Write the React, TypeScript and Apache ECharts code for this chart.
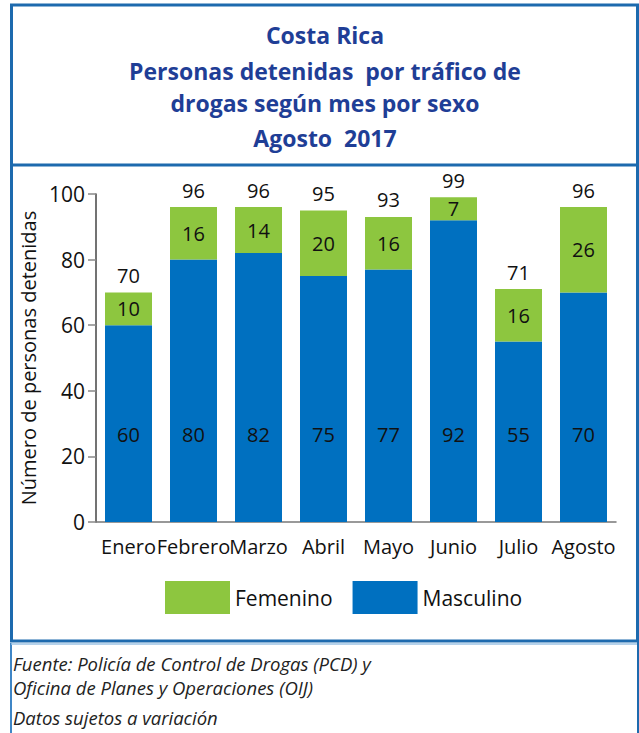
import React, { useEffect, useRef } from "react";
import * as echarts from "echarts";

const categories = ["Enero", "Febrero", "Marzo", "Abril", "Mayo", "Junio", "Julio", "Agosto"];
const masculino = [60, 80, 82, 75, 77, 92, 55, 70];
const femenino = [10, 16, 14, 20, 16, 7, 16, 26];
const totals = [70, 96, 96, 95, 93, 99, 71, 96];
const yTicks = { min: 0, max: 100, interval: 20 };
const titleLines = ["Costa Rica", "Personas detenidas  por tráfico de", "drogas según mes por sexo", "Agosto  2017"];
const footerLines = [
  "Fuente: Policía de Control de Drogas (PCD) y",
  "Oficina de Planes y Operaciones (OIJ)",
  "Datos sujetos a variación",
];

const BLUE = "#0070c0";
const GREEN = "#8dc63f";
const FRAME = "#1d6aae";
const TITLE_COLOR = "#1f3e96";
const FONT = "'Open Sans', 'Noto Sans', sans-serif";

export default function App() {
  const ref = useRef<HTMLDivElement>(null);
  useEffect(() => {
    document.body.style.margin = "0";
    const chart = echarts.init(ref.current!, undefined, { renderer: "svg" });
    const titleY = [35, 71, 103, 138];
    const footerY = [663, 687, 717];
    chart.setOption({
      animation: false,
      textStyle: { fontFamily: FONT },
      grid: { left: 96, top: 194, width: 520, height: 328, containLabel: false },
      legend: {
        data: ["Femenino", "Masculino"],
        left: 165,
        top: 581,
        padding: 0,
        itemWidth: 65,
        itemHeight: 33,
        itemGap: 20,
        icon: "rect",
        textStyle: { fontSize: 21, color: "#111", fontFamily: FONT },
      },
      xAxis: {
        type: "category",
        data: categories,
        axisLine: { lineStyle: { color: "#777", width: 1.5 } },
        axisTick: { inside: true, length: 6, lineStyle: { color: "#777" } },
        axisLabel: { fontSize: 20, color: "#111", margin: 14, interval: 0, fontFamily: FONT },
      },
      yAxis: {
        type: "value",
        min: yTicks.min,
        max: yTicks.max,
        interval: yTicks.interval,
        name: "Número de personas detenidas",
        nameLocation: "middle",
        nameGap: 52,
        nameTextStyle: { fontSize: 20, color: "#111", fontFamily: FONT },
        axisLine: { show: true, lineStyle: { color: "#444", width: 1.5 } },
        axisTick: { show: true, length: 8, lineStyle: { color: "#888", width: 1.5 } },
        splitLine: { show: false },
        axisLabel: { fontSize: 21, color: "#111", margin: 11, fontFamily: FONT },
      },
      series: [
        {
          name: "Masculino",
          type: "bar",
          stack: "s",
          data: masculino,
          barWidth: 47,
          itemStyle: { color: BLUE },
          label: {
            show: true,
            position: "insideBottom",
            distance: 78,
            fontSize: 20,
            color: "#111",
            fontFamily: FONT,
          },
        },
        {
          name: "Femenino",
          type: "bar",
          stack: "s",
          data: femenino,
          barWidth: 47,
          itemStyle: { color: GREEN },
          label: { show: true, position: "inside", fontSize: 20, color: "#111", fontFamily: FONT },
        },
        {
          name: "Total",
          type: "bar",
          stack: "s",
          data: totals.map(() => 0),
          barWidth: 47,
          itemStyle: { color: "transparent" },
          label: {
            show: true,
            position: "top",
            distance: 7,
            fontSize: 20,
            color: "#111",
            fontFamily: FONT,
            formatter: (p: any) => String(totals[p.dataIndex]),
          },
        },
      ],
      graphic: [
        {
          type: "rect",
          shape: { x: 11.5, y: 5, width: 626, height: 636 },
          style: { fill: "none", stroke: FRAME, lineWidth: 3 },
          silent: true,
        },
        {
          type: "line",
          shape: { x1: 11.5, y1: 165, x2: 637.5, y2: 165 },
          style: { stroke: FRAME, lineWidth: 3 },
        },
        {
          type: "line",
          shape: { x1: 11, y1: 643, x2: 11, y2: 733 },
          style: { stroke: "#3f86c6", lineWidth: 2 },
        },
        {
          type: "line",
          shape: { x1: 11, y1: 644, x2: 638, y2: 644 },
          style: { stroke: "#9cc3e4", lineWidth: 1.5 },
        },
        {
          type: "line",
          shape: { x1: 638, y1: 641, x2: 638, y2: 733 },
          style: { stroke: FRAME, lineWidth: 2 },
        },
        ...titleLines.map((t, i) => ({
          type: "text",
          x: 325,
          y: titleY[i],
          style: {
            text: t,
            fill: TITLE_COLOR,
            fontFamily: "'Open Sans', sans-serif",
            fontWeight: "bold",
            fontSize: 23,
            textAlign: "center",
            textVerticalAlign: "middle",
          },
        })),
        ...footerLines.map((t, i) => ({
          type: "text",
          x: 13,
          y: footerY[i],
          style: {
            text: t,
            fill: "#222",
            fontFamily: "'Open Sans', sans-serif",
            fontStyle: "italic",
            fontSize: 18.5,
            textAlign: "left",
            textVerticalAlign: "middle",
          },
        })),
      ],
    });
    return () => chart.dispose();
  }, []);
  return <div ref={ref} style={{ width: 639, height: 733 }} />;
}
